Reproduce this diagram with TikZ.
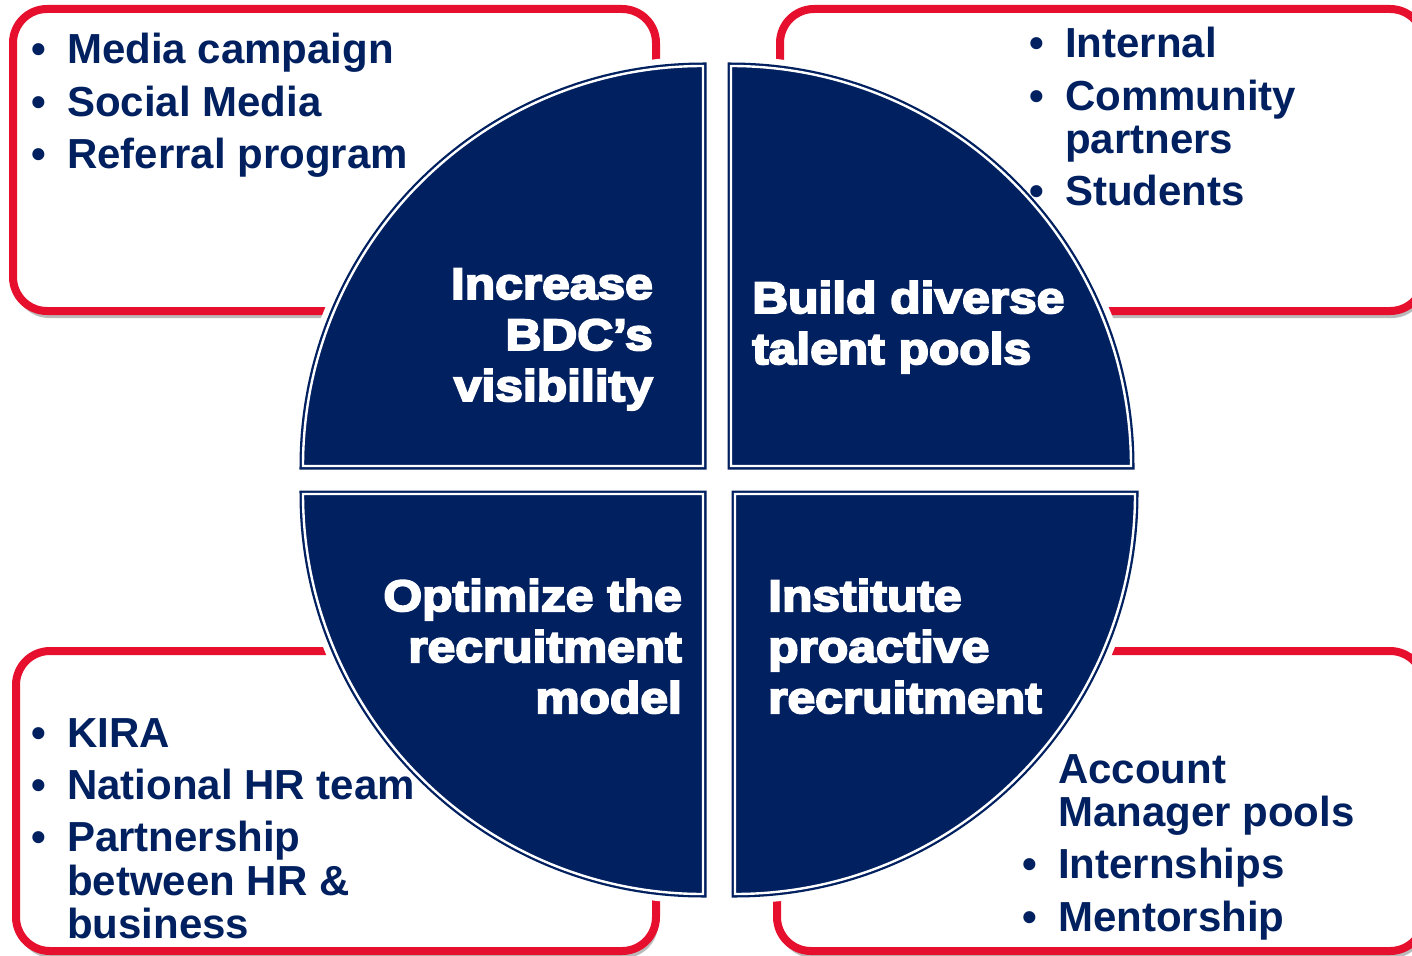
\documentclass[tikz,border=0pt]{standalone}
\usepackage{fontspec}
\setmainfont{Liberation Sans}
\newfontfamily\heavyfont[BoldFeatures={FakeBold=4.5,FakeStretch=1.13}]{Liberation Sans}
\usetikzlibrary{calc,shadows}
\definecolor{bdcnavy}{RGB}{0,32,96}
\definecolor{bdcred}{RGB}{230,16,46}
\newcommand{\itm}{\makebox[36pt][l]{•}}
\newcommand{\rad}{400}

\begin{document}
\begin{tikzpicture}[x=1pt,y=-1pt,
	redbox/.style={draw=bdcred,line width=8pt,fill=white,rounded corners=34pt,
		drop shadow={shadow xshift=2pt,shadow yshift=-7pt,opacity=0.45,fill=black!60}},
	halo/.style={draw=white,line width=19pt},
	quarter/.style={draw=bdcnavy,fill=bdcnavy,line width=7pt},
	rim/.style={draw=white,line width=2.4pt},
	listtext/.style={text=bdcnavy,inner sep=0pt,anchor=base west,
		font=\bfseries\fontsize{42}{43}\selectfont},
	goaltext/.style={text=white,inner sep=0pt,
		font=\heavyfont\bfseries\fontsize{44}{51}\selectfont}
	]
	\useasboundingbox (0,0) rectangle (1412,955);

	% red frames behind the circle
	\draw[redbox] (13,9) rectangle (656,311);
	\draw[redbox] (780,9) rectangle (1424,311);
	\draw[redbox] (16,651) rectangle (656,951);
	\draw[redbox] (777,651) rectangle (1424,951);

	% the four quarters
	\coordinate (tl) at (703,466);
	\coordinate (tr) at (731,466);
	\coordinate (bl) at (703,494);
	\coordinate (br) at (735,494);
	\foreach \c/\a in {tl/180,tr/270,br/0,bl/90}
		\draw[halo] (\c) -- ($(\c)+(\a:\rad)$) arc[start angle=\a,delta angle=90,radius=\rad] -- cycle;
	\foreach \c/\a in {tl/180,tr/270,br/0,bl/90}{
		\draw[quarter] (\c) -- ($(\c)+(\a:\rad)$) arc[start angle=\a,delta angle=90,radius=\rad] -- cycle;
		\draw[rim] (\c) -- ($(\c)+(\a:\rad)$) arc[start angle=\a,delta angle=90,radius=\rad] -- cycle;
	}

	\node[goaltext,anchor=base east] (visibility) at (653,299)
		{\begin{tabular}[t]{@{}r@{}}Increase\\BDC’s\\visibility\end{tabular}};
	\node[goaltext,anchor=base west] (talent) at (752,313)
		{\begin{tabular}[t]{@{}l@{}}Build diverse\\talent pools\end{tabular}};
	\node[goaltext,anchor=base east] (model) at (682,611)
		{\begin{tabular}[t]{@{}r@{}}Optimize the\\recruitment\\model\end{tabular}};
	\node[goaltext,anchor=base west] (proactive) at (768,611)
		{\begin{tabular}[t]{@{}l@{}}Institute\\proactive\\recruitment\end{tabular}};

	% bullet lists
	\node[listtext] (reach) at (31,64) {\begin{tabular}[t]{@{}l@{}l@{}}
		\itm & Media campaign\\[9pt]
		\itm & Social Media\\[9pt]
		\itm & Referral program
	\end{tabular}};
	\node[listtext] (sources) at (1029,58) {\begin{tabular}[t]{@{}l@{}l@{}}
		\itm & Internal\\[9pt]
		\itm & Community\\
		     & partners\\[9pt]
		\itm & Students
	\end{tabular}};
	\node[listtext] (partners) at (31,747) {\begin{tabular}[t]{@{}l@{}l@{}}
		\itm & KIRA\\[9pt]
		\itm & National HR team\\[9pt]
		\itm & Partnership\\
		     & between HR \&\\
		     & business
	\end{tabular}};
	\node[listtext] (programs) at (1022,783) {\begin{tabular}[t]{@{}l@{}l@{}}
		     & Account\\
		     & Manager pools\\[9pt]
		\itm & Internships\\[9pt]
		\itm & Mentorship
	\end{tabular}};
\end{tikzpicture}
\end{document}
